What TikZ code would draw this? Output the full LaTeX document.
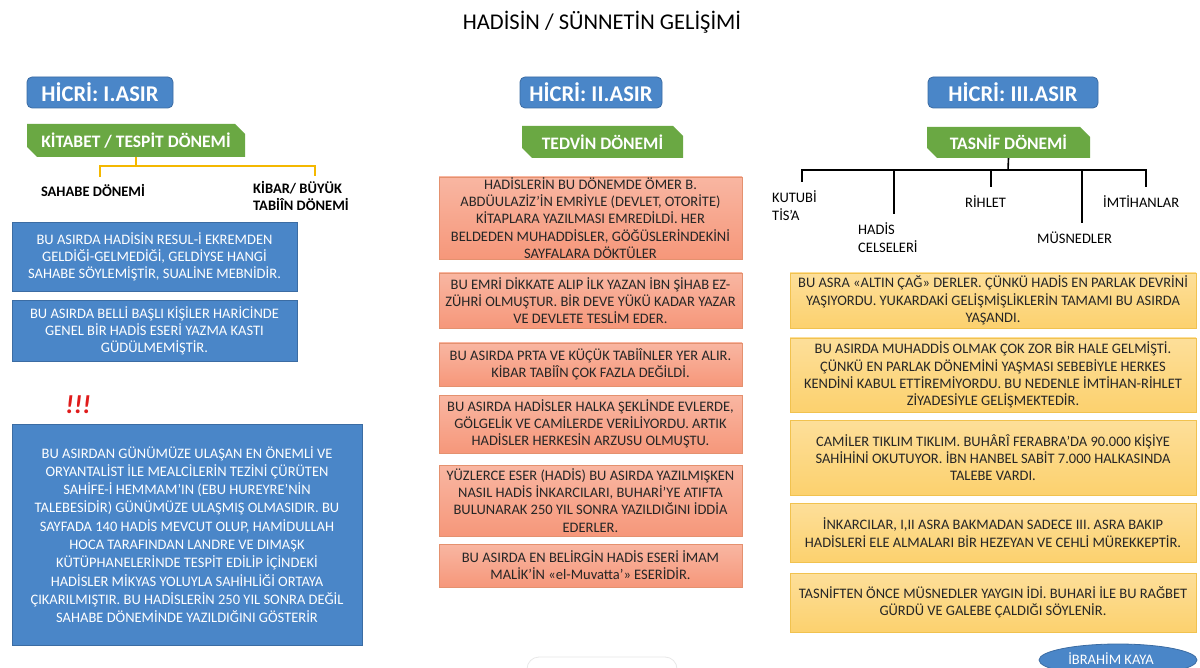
\documentclass[tikz,border=0pt]{standalone}
\usepackage{fontspec}
\setmainfont{Carlito}
\usepackage{tikz}
\usetikzlibrary{shapes.geometric,shapes.misc,positioning}
\definecolor{hblue}{HTML}{4A86C8}
\definecolor{hblueline}{HTML}{3B6CA3}
\definecolor{pgreen}{HTML}{6AA843}
\definecolor{salmon}{HTML}{F6977A}
\definecolor{salmonline}{HTML}{E4916F}
\definecolor{sand}{HTML}{FCD16E}
\definecolor{sandline}{HTML}{F1C24F}
\definecolor{gold}{HTML}{F4B800}
\definecolor{alert}{HTML}{E01B1B}

\begin{document}
\begin{tikzpicture}[x=1pt, y=-1pt,
    century/.style={rectangle, draw=hblueline, fill=hblue, text=white,
                    rounded corners=5pt, line width=0.8pt, minimum height=31pt,
                    inner sep=0pt, font=\fontsize{22.5}{26}\selectfont\bfseries},
    period/.style={chamfered rectangle, chamfered rectangle corners={north east, south west},
                   chamfered rectangle xsep=5pt, chamfered rectangle ysep=5pt,
                   fill=pgreen, text=white, inner sep=0pt,
                   font=\fontsize{17.5}{20}\selectfont\bfseries},
    bluenote/.style={rectangle, draw=hblueline, fill=hblue, text=white, line width=0.8pt,
                     align=center, inner sep=0pt, font=\fontsize{14.5}{17}\selectfont},
    salmonnote/.style={rectangle, draw=salmonline, top color=salmon!70!white, bottom color=salmon,
                       text=black!85, line width=0.8pt, align=center, inner sep=0pt,
                       font=\fontsize{14.5}{17.2}\selectfont},
    sandnote/.style={rectangle, draw=sandline, top color=sand!70!white, bottom color=sand,
                     text=black!85, line width=0.8pt, align=center, inner sep=0pt,
                     font=\fontsize{14.5}{17.3}\selectfont},
    sublabel/.style={inner sep=0pt, align=left, font=\fontsize{14.5}{17}\selectfont\bfseries},
    leaf/.style={inner sep=0pt, anchor=west, align=left, font=\fontsize{14.5}{17.5}\selectfont},
    bracket/.style={draw=gold, line width=1.8pt},
    branch/.style={draw=black, line width=1.6pt},
]
\path[use as bounding box, fill=white] (0,0) rectangle (1200,668);

\node[font=\fontsize{22.5}{26}\selectfont] (title) at (602,22) {HADİSİN / SÜNNETİN GELİŞİMİ};

\node[century, minimum width=146pt] (asrA) at (100,92.5) {HİCRİ: I.ASIR};
\node[century, minimum width=142pt] (asrB) at (591,92.5) {HİCRİ: II.ASIR};
\node[century, minimum width=170pt] (asrC) at (1013,92.5) {HİCRİ: III.ASIR};

\node[period, minimum width=218pt, minimum height=33pt] (kitabet) at (136,140.5) {KİTABET / TESPİT DÖNEMİ};
\node[period, minimum width=161pt, minimum height=32pt] (tedvin) at (602.5,142) {TEDVİN DÖNEMİ};
\node[period, minimum width=163pt, minimum height=31pt] (tasnif) at (1008.5,142.5) {TASNİF DÖNEMİ};

\node[sublabel] (sahabe) at (93,190) {SAHABE DÖNEMİ};
\node[sublabel, anchor=west] (kibar) at (253,196) {KİBAR/ BÜYÜK\\TABİÎN DÖNEMİ};
\coordinate (forkA) at (136,166);
\coordinate (sahabeTop) at (100,177);
\coordinate (kibarTop) at (315,176);
\draw[bracket] (kitabet.south) -- (forkA);
\draw[bracket] (sahabeTop) |- (forkA) -| (kibarTop);

\node[bluenote, minimum width=285pt, minimum height=69pt] (sualA) at (154.5,256.5)
  {BU ASIRDA HADİSİN RESUL-İ EKREMDEN\\GELDİĞİ-GELMEDİĞİ, GELDİYSE HANGİ\\SAHABE SÖYLEMİŞTİR, SUALİNE MEBNİDİR.};
\node[bluenote, minimum width=285pt, minimum height=61pt] (kastA) at (154.5,330.5)
  {BU ASIRDA BELLİ BAŞLI KİŞİLER HARİCİNDE\\GENEL BİR HADİS ESERİ YAZMA KASTI\\GÜDÜLMEMİŞTİR.};
\node[text=alert, font=\fontsize{26}{28}\selectfont\bfseries\itshape] (bang) at (78,405) {!!!};
\node[bluenote, minimum width=350pt, minimum height=221pt, font=\fontsize{14.5}{18.3}\selectfont] (sahife) at (187,534.5)
  {BU ASIRDAN GÜNÜMÜZE ULAŞAN EN ÖNEMLİ VE\\ORYANTALİST İLE MEALCİLERİN TEZİNİ ÇÜRÜTEN\\SAHİFE-İ HEMMAM’IN (EBU HUREYRE’NİN\\TALEBESİDİR) GÜNÜMÜZE ULAŞMIŞ OLMASIDIR. BU\\SAYFADA 140 HADİS MEVCUT OLUP, HAMİDULLAH\\HOCA TARAFINDAN LANDRE VE DIMAŞK\\KÜTÜPHANELERİNDE TESPİT EDİLİP İÇİNDEKİ\\HADİSLER MİKYAS YOLUYLA SAHİHLİĞİ ORTAYA\\ÇIKARILMIŞTIR. BU HADİSLERİN 250 YIL SONRA DEĞİL\\SAHABE DÖNEMİNDE YAZILDIĞINI GÖSTERİR};

\node[salmonnote, minimum width=303pt, minimum height=82pt] (emirB) at (590.5,218)
  {HADİSLERİN BU DÖNEMDE ÖMER B.\\ABDÜULAZİZ’İN EMRİYLE (DEVLET, OTORİTE)\\KİTAPLARA YAZILMASI EMREDİLDİ. HER\\BELDEDEN MUHADDİSLER, GÖĞÜSLERİNDEKİNİ\\SAYFALARA DÖKTÜLER};
\node[salmonnote, minimum width=303pt, minimum height=55pt] (zuhriB) at (590.5,300.5)
  {BU EMRİ DİKKATE ALIP İLK YAZAN İBN ŞİHAB EZ-\\ZÜHRİ OLMUŞTUR. BİR DEVE YÜKÜ KADAR YAZAR\\VE DEVLETE TESLİM EDER.};
\node[salmonnote, minimum width=303pt, minimum height=43pt] (tabiinB) at (590.5,364.5)
  {BU ASIRDA PRTA VE KÜÇÜK TABİÎNLER YER ALIR.\\KİBAR TABİÎN ÇOK FAZLA DEĞİLDİ.};
\node[salmonnote, minimum width=303pt, minimum height=58pt] (halkaB) at (590.5,424)
  {BU ASIRDA HADİSLER HALKA ŞEKLİNDE EVLERDE,\\GÖLGELİK VE CAMİLERDE VERİLİYORDU. ARTIK\\HADİSLER HERKESİN ARZUSU OLMUŞTU.};
\node[salmonnote, minimum width=303pt, minimum height=71pt] (eserB) at (590.5,500.5)
  {YÜZLERCE ESER (HADİS) BU ASIRDA YAZILMIŞKEN\\NASIL HADİS İNKARCILARI, BUHARİ’YE ATIFTA\\BULUNARAK 250 YIL SONRA YAZILDIĞINI İDDİA\\EDERLER.};
\node[salmonnote, minimum width=303pt, minimum height=43pt] (muvattaB) at (590.5,565.5)
  {BU ASIRDA EN BELİRGİN HADİS ESERİ İMAM\\MALİK’İN «el-Muvatta’» ESERİDİR.};

\coordinate (forkC) at (1008,170);
\coordinate (kutubiTop) at (802,182);
\coordinate (hadisTop) at (894,214);
\coordinate (rihletTop) at (991,187);
\coordinate (musnedTop) at (1082,223);
\coordinate (imtihanTop) at (1146,187);
\draw[branch] (tasnif.south) -- (forkC);
\draw[branch] (kutubiTop) |- (forkC) -| (imtihanTop);
\draw[branch] (hadisTop) -- (hadisTop |- forkC);
\draw[branch] (rihletTop) -- (rihletTop |- forkC);
\draw[branch] (musnedTop) -- (musnedTop |- forkC);
\node[leaf] (kutubi) at (772,205.5) {KUTUBİ\\TİS’A};
\node[leaf] (hadis) at (858,237.5) {HADİS\\CELSELERİ};
\node[leaf] (rihlet) at (965,202) {RİHLET};
\node[leaf] (musned) at (1037,238) {MÜSNEDLER};
\node[leaf] (imtihan) at (1103,202) {İMTİHANLAR};

\node[sandnote, minimum width=406pt, minimum height=55pt] (altinC) at (993,300.5)
  {BU ASRA «ALTIN ÇAĞ» DERLER. ÇÜNKÜ HADİS EN PARLAK DEVRİNİ\\YAŞIYORDU. YUKARDAKİ GELİŞMİŞLİKLERİN TAMAMI BU ASIRDA\\YAŞANDI.};
\node[sandnote, minimum width=406pt, minimum height=74pt] (muhaddisC) at (993,375)
  {BU ASIRDA MUHADDİS OLMAK ÇOK ZOR BİR HALE GELMİŞTİ.\\ÇÜNKÜ EN PARLAK DÖNEMİNİ YAŞMASI SEBEBİYLE HERKES\\KENDİNİ KABUL ETTİREMİYORDU. BU NEDENLE İMTİHAN-RİHLET\\ZİYADESİYLE GELİŞMEKTEDİR.};
\node[sandnote, minimum width=406pt, minimum height=75pt] (camiC) at (993,457.5)
  {CAMİLER TIKLIM TIKLIM. BUHÂRÎ FERABRA’DA 90.000 KİŞİYE\\SAHİHİNİ OKUTUYOR. İBN HANBEL SABİT 7.000 HALKASINDA\\TALEBE VARDI.};
\node[sandnote, minimum width=406pt, minimum height=59pt] (inkarC) at (993,532.5)
  {İNKARCILAR, I,II ASRA BAKMADAN SADECE III. ASRA BAKIP\\HADİSLERİ ELE ALMALARI BİR HEZEYAN VE CEHLİ MÜREKKEPTİR.};
\node[sandnote, minimum width=406pt, minimum height=59pt] (musnedC) at (993,602.5)
  {TASNİFTEN ÖNCE MÜSNEDLER YAYGIN İDİ. BUHARİ İLE BU RAĞBET\\GÜRDÜ VE GALEBE ÇALDIĞI SÖYLENİR.};

\draw[gray!18, line width=0.8pt, rounded corners=12pt] (527,690) rectangle (677,657);
\node[ellipse, draw=hblueline, fill=hblue, line width=0.8pt,
      minimum width=158pt, minimum height=32pt, inner sep=0pt] (author) at (1118,660) {};
\node[text=white, inner sep=0pt, font=\fontsize{14.5}{16}\selectfont] (authorname) at (1111,658.5) {İBRAHİM KAYA};
\end{tikzpicture}
\end{document}
